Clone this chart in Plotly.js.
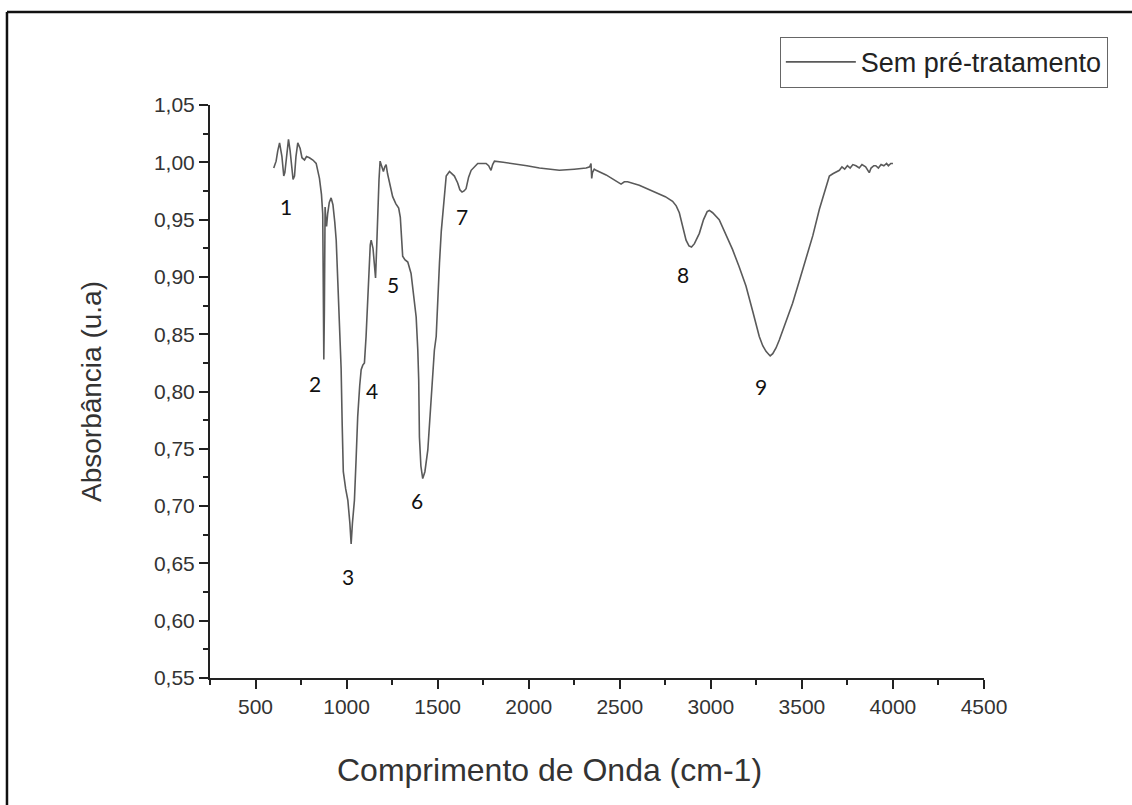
<!DOCTYPE html>
<html>
<head>
<meta charset="utf-8">
<script src="https://cdn.plot.ly/plotly-3.0.1.min.js"></script>
<style>html,body{margin:0;padding:0;background:#fff;}#chart{width:1132px;height:805px;}</style>
</head>
<body>
<div id="chart"></div>
<script>
const wavenumber = [600,613,622,632,645,655,661,670,681,690,700,706,714,722,732,745,755,769,780,796,815,833,851,862,869,872,875,878,882,886,890,896,905,915,925,935,943,952,961,970,976,982,995,1007,1018,1025,1032,1043,1052,1061,1072,1080,1089,1098,1107,1116,1122,1130,1135,1145,1152,1159,1165,1171,1178,1184,1193,1202,1210,1217,1225,1235,1253,1270,1286,1295,1300,1308,1320,1336,1354,1368,1382,1391,1396,1400,1408,1418,1430,1446,1460,1473,1482,1492,1500,1510,1520,1528,1537,1547,1565,1580,1592,1610,1622,1634,1645,1656,1670,1684,1700,1720,1745,1766,1780,1793,1802,1812,1860,1912,1990,2059,2168,2250,2315,2335,2342,2346,2350,2360,2370,2425,2470,2507,2525,2543,2607,2650,2699,2750,2790,2810,2827,2845,2864,2880,2894,2910,2925,2937,2960,2980,2992,3010,3046,3080,3119,3155,3193,3230,3266,3285,3303,3315,3326,3340,3358,3376,3410,3449,3485,3522,3560,3596,3625,3651,3670,3690,3706,3720,3735,3750,3765,3780,3797,3815,3830,3850,3862,3870,3880,3895,3906,3920,3935,3950,3965,3975,3988,4000];
const absorbance = [0.995,1.001,1.010,1.017,1.005,0.988,0.991,1.005,1.020,1.010,0.990,0.985,0.988,1.005,1.017,1.012,1.004,1.002,1.005,1.004,1.002,0.999,0.986,0.972,0.955,0.900,0.828,0.870,0.961,0.950,0.944,0.955,0.965,0.969,0.963,0.948,0.932,0.895,0.854,0.820,0.770,0.730,0.715,0.705,0.685,0.667,0.685,0.705,0.740,0.778,0.805,0.819,0.823,0.825,0.848,0.880,0.912,0.928,0.932,0.925,0.912,0.899,0.925,0.956,0.985,1.001,0.997,0.992,0.996,0.998,0.990,0.982,0.970,0.964,0.960,0.952,0.941,0.918,0.915,0.913,0.903,0.885,0.865,0.836,0.810,0.760,0.735,0.724,0.730,0.749,0.780,0.807,0.836,0.848,0.880,0.912,0.940,0.956,0.976,0.988,0.992,0.990,0.988,0.982,0.976,0.974,0.975,0.977,0.987,0.993,0.996,0.999,0.999,0.999,0.997,0.993,0.998,1.001,1.000,0.999,0.997,0.995,0.993,0.994,0.995,0.996,0.999,0.986,0.991,0.994,0.993,0.989,0.985,0.981,0.983,0.983,0.980,0.977,0.973,0.970,0.966,0.962,0.956,0.944,0.932,0.927,0.926,0.929,0.934,0.938,0.950,0.957,0.958,0.956,0.950,0.938,0.924,0.909,0.892,0.870,0.848,0.840,0.835,0.833,0.831,0.833,0.838,0.845,0.860,0.877,0.896,0.915,0.936,0.959,0.975,0.988,0.990,0.992,0.993,0.996,0.994,0.997,0.995,0.998,0.997,0.995,0.998,0.996,0.993,0.991,0.995,0.997,0.997,0.995,0.998,0.997,0.999,0.997,0.999,0.999];

const seriesName = "Sem pré-tratamento";
const peakLabels = ["1","2","3","4","5","6","7","8","9"];
const peakX = [670,829,1010,1137,1257,1389,1636,2849,3277];
const peakY = [0.961,0.807,0.639,0.801,0.893,0.705,0.953,0.902,0.804];

const xTitle = "Comprimento de Onda (cm-1)";
const yTitle = "Absorbância (u.a)";

const trace = {
  x: wavenumber, y: absorbance, type: 'scatter', mode: 'lines', name: seriesName,
  line: {color: '#5a5a5a', width: 1.6}
};

const FAM = 'Liberation Sans, Arial, sans-serif';

const annotations = peakLabels.map((t, i) => ({
  x: peakX[i], y: peakY[i], xref: 'x', yref: 'y', text: t, showarrow: false,
  font: {family: 'Lato, Noto Sans, sans-serif', size: 21, color: '#111'}
}));
annotations.push({
  x: 0.439, y: -0.1606, xref: 'paper', yref: 'paper', text: xTitle, showarrow: false,
  xanchor: 'center', yanchor: 'middle',
  font: {family: FAM, size: 32, color: '#333'}
});

const axisFont = {family: FAM, size: 21, color: '#333'};

const layout = {
  width: 1132, height: 805,
  margin: {l: 210, r: 148, t: 105, b: 127},
  paper_bgcolor: '#fff', plot_bgcolor: '#fff',
  separators: ',.',
  showlegend: true,
  legend: {
    x: 1.16, y: 1.119, xanchor: 'right', yanchor: 'top',
    bordercolor: '#666', borderwidth: 1, bgcolor: '#fff',
    itemwidth: 70,
    font: {family: FAM, size: 27, color: '#222'}
  },
  xaxis: {
    range: [250, 4500], dtick: 500, tick0: 500, tickformat: 'd',
    showgrid: false, zeroline: false, showline: true, linecolor: '#222', linewidth: 2,
    ticks: 'outside', ticklen: 9, tickwidth: 2, tickcolor: '#222',
    minor: {dtick: 250, tick0: 250, ticks: 'outside', ticklen: 5, tickwidth: 2, tickcolor: '#222', showgrid: false},
    tickfont: axisFont
  },
  yaxis: {
    range: [0.55, 1.05], dtick: 0.05, tick0: 0.55, tickformat: '.2f',
    showgrid: false, zeroline: false, showline: true, linecolor: '#222', linewidth: 2,
    ticks: 'outside', ticklen: 9, tickwidth: 2, tickcolor: '#222',
    minor: {dtick: 0.025, ticks: 'outside', ticklen: 5, tickwidth: 2, tickcolor: '#222', showgrid: false},
    tickfont: axisFont,
    title: {text: yTitle, font: {family: FAM, size: 28, color: '#333'}, standoff: 44}
  },
  annotations: annotations,
  shapes: [
    {type: 'line', xref: 'paper', yref: 'paper', x0: -0.2623, x1: -0.2623, y0: 1.1623, y1: -0.23, line: {color: '#111', width: 2.5}},
    {type: 'line', xref: 'paper', yref: 'paper', x0: -0.2623, x1: 1.2, y0: 1.1623, y1: 1.1623, line: {color: '#111', width: 2.5}}
  ]
};

Plotly.newPlot('chart', [trace], layout, {staticPlot: true, displayModeBar: false});
</script>
</body>
</html>
